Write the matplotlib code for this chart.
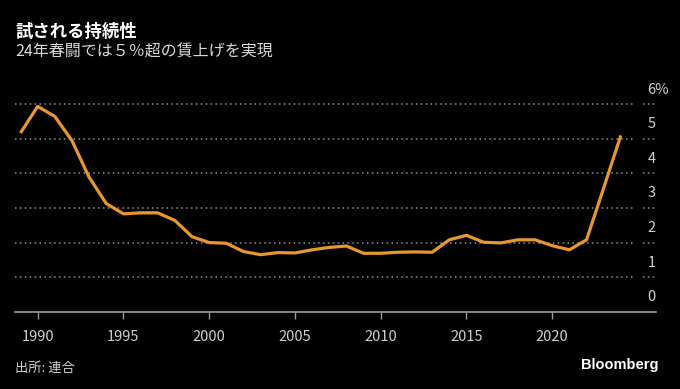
import matplotlib
matplotlib.use("Agg")
import matplotlib.pyplot as plt
import matplotlib.transforms as mtransforms

plt.rcParams['font.family'] = ['Noto Sans CJK JP', 'DejaVu Sans']

years = [1989, 1990, 1991, 1992, 1993, 1994, 1995, 1996, 1997, 1998,
         1999, 2000, 2001, 2002, 2003, 2004, 2005, 2006, 2007, 2008,
         2009, 2010, 2011, 2012, 2013, 2014, 2015, 2016, 2017, 2018,
         2019, 2020, 2021, 2022, 2023, 2024]
wage_rise = [5.17, 5.94, 5.65, 4.95, 3.89, 3.13, 2.83, 2.86, 2.86, 2.64,
             2.17, 2.00, 1.98, 1.74, 1.65, 1.71, 1.70, 1.79, 1.86, 1.90,
             1.69, 1.69, 1.72, 1.73, 1.72, 2.08, 2.21, 2.01, 1.99, 2.08,
             2.08, 1.91, 1.79, 2.08, 3.58, 5.10]
x_ticks = [1990, 1995, 2000, 2005, 2010, 2015, 2020]
y_ticks = [0, 1, 2, 3, 4, 5, 6]
y_tick_labels = ['0', '1', '2', '3', '4', '5', '6%']

title = '試される持続性'
subtitle = '24年春闘では５％超の賃上げを実現'
source = '出所: 連合'
brand = 'Bloomberg'

W, H = 680, 389
fig = plt.figure(figsize=(W / 100, H / 100), dpi=100, facecolor='black')

ax_left, ax_right = 15, 656
ax_bottom, ax_top = 311.7, 97.4
ax = fig.add_axes([ax_left / W, 1 - ax_bottom / H,
                   (ax_right - ax_left) / W, (ax_bottom - ax_top) / H])
ax.set_facecolor('black')
ax.set_xlim(1988.68, 2026.05)
ax.set_ylim(0, 6.2)

for s in ['top', 'right', 'left']:
    ax.spines[s].set_visible(False)
ax.spines['bottom'].set_color('#9a9a9a')
ax.spines['bottom'].set_linewidth(1.2)

ax.set_xticks(x_ticks)
ax.set_xticklabels([str(t) for t in x_ticks])
ax.tick_params(axis='x', colors='#9a9a9a', length=5, width=1, direction='out',
               labelcolor='#cfcfcf', labelsize=10.5, pad=8)
ax.set_yticks([])

# gridlines (dotted) and right-side dotted tick stubs
trans = mtransforms.blended_transform_factory(ax.transAxes, ax.transData)
g_end = (634 - ax_left) / (ax_right - ax_left)
s_start = (643 - ax_left) / (ax_right - ax_left)
s_end = (656 - ax_left) / (ax_right - ax_left)
for v in y_ticks[1:]:
    ax.plot([0, g_end], [v, v], transform=trans, color='#909090',
            linestyle=(0, (1, 2.2)), linewidth=1.1, zorder=1)
    ax.plot([s_start, s_end], [v, v], transform=trans, color='#909090',
            linestyle=(0, (1, 2.2)), linewidth=1.1, zorder=1)

lab_x = (647.5 - ax_left) / (ax_right - ax_left)
for v, lab in zip(y_ticks, y_tick_labels):
    ax.text(lab_x, v + 0.42, lab, transform=trans, color='#cfcfcf',
            fontsize=10.5, ha='left', va='center')

ax.plot(years, wage_rise, color='#e8962f', linewidth=2.3,
        solid_joinstyle='round', solid_capstyle='butt', zorder=3)

fig.text(15 / W, 1 - 32 / H, title, color='white', fontsize=12.5,
         fontweight='bold', ha='left', va='center')
fig.text(15 / W, 1 - 52.5 / H, subtitle, color='#d8d8d8', fontsize=11.5,
         ha='left', va='center')
fig.text(15 / W, 1 - 368 / H, source, color='#cfcfcf', fontsize=9.5,
         ha='left', va='center')
fig.text(659 / W, 1 - 365 / H, brand, color='white', fontsize=10.5,
         fontweight='bold', ha='right', va='center',
         family=['Liberation Sans', 'DejaVu Sans'])

fig.savefig('out.png', dpi=100, facecolor='black')
